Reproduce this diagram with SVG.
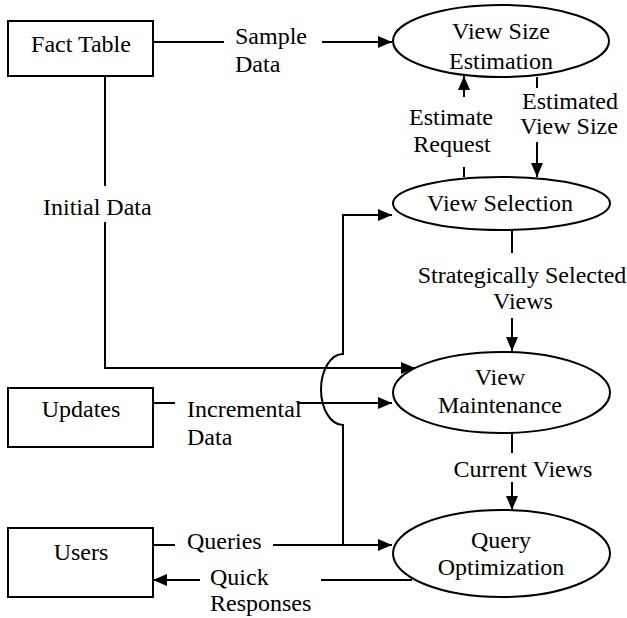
<svg xmlns="http://www.w3.org/2000/svg" width="627" height="618" viewBox="0 0 627 618">
<style>
text{font-family:"Liberation Serif","Times New Roman",serif;font-size:24px;fill:#000}
.m{text-anchor:middle}
.box{fill:#fff;stroke:#000;stroke-width:2}
.ell{fill:#fff;stroke:#000;stroke-width:2}
.c{fill:none;stroke:#000;stroke-width:2}
.a{marker-end:url(#arr)}
</style>
<defs>
<marker id="arr" markerUnits="userSpaceOnUse" markerWidth="15" markerHeight="13" refX="14" refY="6" orient="auto">
<path d="M0,0 L14,6 L0,12 z" fill="#000"/>
</marker>
</defs>
<g id="connectors">
<line class="c" x1="153" y1="42" x2="224" y2="42"/>
<line class="c a" x1="322" y1="42" x2="392" y2="42"/>
<line class="c" x1="537" y1="77" x2="537" y2="88"/>
<line class="c a" x1="537" y1="142" x2="537" y2="177"/>
<line class="c" x1="464" y1="167" x2="464" y2="177"/>
<line class="c a" x1="464" y1="97" x2="464" y2="76"/>
<line class="c" x1="512" y1="230" x2="512" y2="253"/>
<line class="c a" x1="512" y1="318" x2="512" y2="351"/>
<line class="c" x1="512" y1="433" x2="512" y2="453"/>
<line class="c a" x1="512" y1="482" x2="512" y2="510"/>
<line class="c" x1="105" y1="76" x2="105" y2="186"/>
<path class="c a" d="M105,222 V368 H415"/>
<line class="c" x1="153" y1="403" x2="175" y2="403"/>
<line class="c a" x1="297" y1="403" x2="392" y2="403"/>
<path class="c a" d="M343,545 V425 A22,35.5 0 0 1 343,354 V215 H392"/>
<line class="c" x1="153" y1="545" x2="175" y2="545"/>
<line class="c a" x1="273" y1="545" x2="392" y2="545"/>
<line class="c" x1="412" y1="580" x2="321" y2="580"/>
<line class="c a" x1="200" y1="580" x2="153" y2="580"/>
</g>
<g id="fact-table">
<rect class="box" x="8" y="21" width="145" height="55"/>
<text class="m" x="81" y="52">Fact Table</text>
</g>
<g id="updates">
<rect class="box" x="8" y="388" width="145" height="59"/>
<text class="m" x="81" y="417">Updates</text>
</g>
<g id="users">
<rect class="box" x="8" y="528" width="145" height="69"/>
<text class="m" x="81" y="560">Users</text>
</g>
<g id="view-size-estimation">
<ellipse class="ell" cx="501" cy="41" rx="108" ry="36"/>
<text class="m" x="501" y="39">View Size</text>
<text class="m" x="501" y="69">Estimation</text>
</g>
<g id="view-selection">
<ellipse class="ell" cx="501.5" cy="203.5" rx="108.5" ry="26.5"/>
<text class="m" x="500" y="211">View Selection</text>
</g>
<g id="view-maintenance">
<ellipse class="ell" cx="501.5" cy="392.5" rx="108.5" ry="40.5"/>
<text class="m" x="500" y="385">View</text>
<text class="m" x="500" y="413">Maintenance</text>
</g>
<g id="query-optimization">
<ellipse class="ell" cx="501.5" cy="553.5" rx="108.5" ry="43.5"/>
<text class="m" x="501" y="548">Query</text>
<text class="m" x="501" y="575">Optimization</text>
</g>
<g id="labels">
<text x="235" y="44">Sample</text>
<text x="235" y="72">Data</text>
<text class="m" x="451" y="125">Estimate</text>
<text class="m" x="452" y="152">Request</text>
<text class="m" x="570" y="109">Estimated</text>
<text class="m" x="569" y="134">View Size</text>
<text x="43" y="215">Initial Data</text>
<text class="m" x="522" y="283">Strategically Selected</text>
<text class="m" x="523" y="309">Views</text>
<text x="187" y="417">Incremental</text>
<text x="187" y="445">Data</text>
<text class="m" x="523" y="477">Current Views</text>
<text x="187" y="549">Queries</text>
<text x="210" y="585">Quick</text>
<text x="210" y="611">Responses</text>
</g>
</svg>
